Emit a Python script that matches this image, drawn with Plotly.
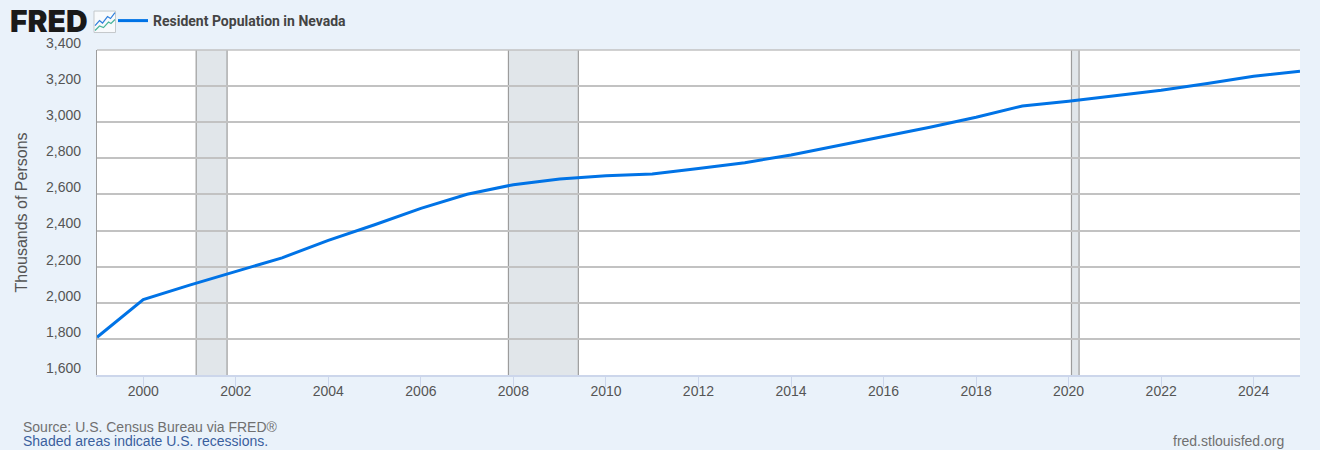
import plotly.graph_objects as go

years = list(range(1999, 2026))
population = [1809, 2018, 2098, 2173, 2249, 2346, 2432, 2523, 2601, 2654, 2685, 2703, 2713,
              2744, 2776, 2818, 2868, 2919, 2972, 3028, 3090, 3116, 3146, 3177, 3215, 3254, 3283]
dates = [f"{y}-01-01" for y in years]
recessions = [("2001-02-22", "2001-10-24"), ("2007-11-23", "2009-05-28"), ("2020-01-24", "2020-03-24")]
y_ticks = [1600, 1800, 2000, 2200, 2400, 2600, 2800, 3000, 3200, 3400]
x_ticks = [f"{y}-01-01" for y in range(2000, 2025, 2)]
x_labels = [str(y) for y in range(2000, 2025, 2)]
series_name = "Resident Population in Nevada"

W, H = 1320, 450
L, R, T, B = 96.5, 1300, 49.5, 375
BG = "#eaf2fa"
def px(x): return (x - L) / (R - L)
def py(y): return (B - y) / (B - T)

fig = go.Figure(go.Scatter(x=dates, y=population, mode="lines", name=series_name,
                           line=dict(color="#0073e6", width=3), showlegend=True, cliponaxis=True))

shapes = []
for a, b in recessions:
    shapes.append(dict(type="rect", xref="x", yref="paper", x0=a, x1=b, y0=0, y1=1, layer="below",
                       fillcolor="#e1e6ea", line=dict(width=0)))
    for e in (a, b):
        shapes.append(dict(type="line", xref="x", yref="paper", x0=e, x1=e, y0=0, y1=1, layer="below",
                           line=dict(color="#9c9c9c", width=1.2)))
shapes.append(dict(type="line", xref="paper", yref="paper", x0=0, x1=1, y0=1, y1=1, layer="above",
                   line=dict(color="#c2c2c2", width=1.6)))
shapes.append(dict(type="rect", xref="paper", yref="paper", x0=px(93.5), x1=px(115), y0=py(32), y1=py(10.5),
                   fillcolor="#f8fafc", line=dict(color="#c5c9cc", width=1)))
def poly(points, color):
    d = "M" + " L".join(f"{px(a):.5f},{py(b):.5f}" for a, b in points)
    return dict(type="path", xref="paper", yref="paper", path=d, line=dict(color=color, width=1.2))
shapes.append(poly([(94.5, 25), (99, 20), (102, 22.5), (107, 16), (110, 18), (114.5, 12)], "#2f7fdc"))
shapes.append(poly([(94.5, 30), (99, 25.5), (103, 27), (108, 21.5), (110.5, 23), (114.5, 19)], "#49b49a"))

ann = [
    dict(text="FRED", x=px(8), y=py(20.5), xanchor="left", yanchor="middle",
         font=dict(family="Inter", size=30, color="#1a1a1a", weight=900)),
    dict(text="Source: U.S. Census Bureau via FRED®", x=px(21), y=py(427), xanchor="left", yanchor="middle",
         font=dict(family="Liberation Sans", size=14, color="#707070")),
    dict(text="Shaded areas indicate U.S. recessions.", x=px(21), y=py(441), xanchor="left", yanchor="middle",
         font=dict(family="Liberation Sans", size=14, color="#3a5f9e")),
    dict(text="fred.stlouisfed.org", x=px(1285), y=py(441), xanchor="right", yanchor="middle",
         font=dict(family="Liberation Sans", size=14, color="#707070")),
]
for a in ann:
    a.update(xref="paper", yref="paper", showarrow=False, borderpad=0)

fig.update_layout(
    width=W, height=H, autosize=False,
    margin=dict(l=L, r=W - R, t=T, b=H - B, pad=0, autoexpand=False),
    paper_bgcolor=BG, plot_bgcolor="#ffffff",
    font=dict(family="Liberation Sans", color="#555555"),
    shapes=shapes, annotations=ann,
    legend=dict(orientation="h", xref="container", yref="container", x=113 / W, y=1 - 21 / H,
                xanchor="left", yanchor="middle",
                bgcolor="rgba(0,0,0,0)", itemwidth=30, itemclick=False,
                font=dict(family="Roboto", size=14, color="#444444", weight="bold")),
    xaxis=dict(type="date", range=["1999-01-01", "2025-01-01"], tickmode="array", tickvals=x_ticks, ticktext=x_labels,
               showgrid=False, ticks="outside", ticklen=10, tickwidth=1, tickcolor="#ccd6eb",
               showline=True, linecolor="#ccd6eb", linewidth=1.5, zeroline=False, ticklabelstandoff=-8,
               tickfont=dict(family="Liberation Sans", size=14, color="#555555")),
    yaxis=dict(range=[1600, 3400], tickmode="array", tickvals=y_ticks, tickformat=",",
               showgrid=True, gridcolor="#c2c2c2", gridwidth=1.6, zeroline=False,
               showline=True, linecolor="#9c9c9c", linewidth=1.3, ticks="", ticklabelstandoff=12,
               ticklabelshift=-7,
               tickfont=dict(family="Liberation Sans", size=14, color="#555555"),
               title=dict(text="Thousands of Persons", standoff=14,
                          font=dict(family="Liberation Sans", size=16, color="#555555"))),
)
fig.write_html("out.html", config=dict(displayModeBar=False),
               post_script="document.body.style.margin='0';document.documentElement.style.overflow='hidden';window.dispatchEvent(new Event('resize'));")
